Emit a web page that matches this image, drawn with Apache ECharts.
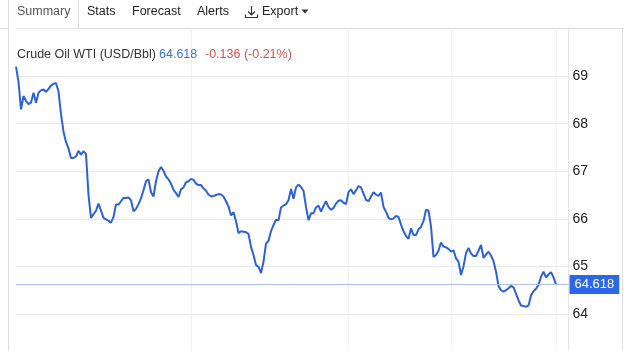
<!DOCTYPE html>
<html>
<head>
<meta charset="utf-8">
<title>Crude Oil WTI</title>
<script src="https://cdn.jsdelivr.net/npm/echarts@6/dist/echarts.min.js"></script>
<style>
    body { margin: 0; background: #fff; }
    #wrap { position: relative; width: 624px; height: 351px; overflow: hidden; font-family: Arial, "Liberation Sans", sans-serif; }
    #CrudeOil { position: absolute; left: 0; top: 0; width: 624px; height: 351px; }
    .tab { position: absolute; top: 3px; font-size: 12.5px; line-height: 16px; color: #222; white-space: nowrap; }
    .ttl { position: absolute; top: 46px; font-size: 12.5px; line-height: 16px; white-space: nowrap; }
    .ln { position: absolute; background: #dedede; }
</style>
</head>
<body>
<div id="wrap">
    <div id="CrudeOil"></div>

    <!-- 页签 -->
    <div class="ln" style="left:0;top:28px;width:8px;height:1px"></div>
    <div class="ln" style="left:78px;top:28px;width:546px;height:1px"></div>
    <div class="ln" style="left:8px;top:0;width:1px;height:351px"></div>
    <div class="ln" style="left:78px;top:0;width:1px;height:28px"></div>
    <div class="ln" style="left:622px;top:28px;width:1px;height:323px"></div>
    <div class="tab" style="left:17px;color:#555">Summary</div>
    <div class="tab" style="left:87px">Stats</div>
    <div class="tab" style="left:132px">Forecast</div>
    <div class="tab" style="left:197px">Alerts</div>
    <svg style="position:absolute;left:244px;top:5px" width="15" height="14" viewBox="0 0 15 14">
        <path d="M7.5 1 V10 M4 6.5 L7.5 10 L11 6.5 M1.5 9.5 V12.5 H13.5 V9.5" fill="none" stroke="#333" stroke-width="1.2"/>
    </svg>
    <div class="tab" style="left:262px">Export</div>
    <svg style="position:absolute;left:301px;top:9px" width="8" height="5" viewBox="0 0 8 5">
        <polygon points="0.5,0.5 7.5,0.5 4,4.5" fill="#333"/>
    </svg>

    <!-- 标题 -->
    <div class="ttl" style="left:17px;color:#333">Crude Oil WTI (USD/Bbl)</div>
    <div class="ttl" id="lastPrice" style="left:159px;color:#3b72d9"></div>
    <div class="ttl" style="left:205px;color:#d9534f">-0.136 (-0.21%)</div>
</div>

<script>
    // 价格走势 (USD/Bbl)
    var prices = [
        69.20, 68.88, 68.30, 68.58, 68.48, 68.41, 68.44, 68.65, 68.44, 68.65,
        68.70, 68.72, 68.67, 68.73, 68.80, 68.84, 68.85, 68.68, 68.20, 67.83,
        67.61, 67.48, 67.28, 67.28, 67.31, 67.43, 67.35, 67.42, 67.36, 66.50,
        66.02, 66.10, 66.17, 66.32, 66.17, 66.02, 65.99, 65.96, 65.92, 66.04,
        66.30, 66.30, 66.37, 66.44, 66.44, 66.45, 66.39, 66.16, 66.21, 66.31,
        66.43, 66.60, 66.79, 66.83, 66.56, 66.47, 66.79, 67.00, 67.09, 67.01,
        66.89, 66.83, 66.74, 66.61, 66.54, 66.46, 66.62, 66.66, 66.77, 66.79,
        66.84, 66.82, 66.74, 66.71, 66.71, 66.64, 66.59, 66.51, 66.47, 66.48,
        66.50, 66.52, 66.51, 66.47, 66.37, 66.26, 66.07, 66.14, 65.95, 65.70,
        65.74, 65.73, 65.72, 65.68, 65.41, 65.24, 65.03, 64.99, 64.86, 65.10,
        65.48, 65.54, 65.74, 65.87, 65.98, 65.97, 66.24, 66.28, 66.31, 66.39,
        66.63, 66.42, 66.66, 66.72, 66.67, 66.59, 66.25, 65.97, 66.12, 66.12,
        66.24, 66.28, 66.15, 66.27, 66.37, 66.25, 66.19, 66.23, 66.32, 66.38,
        66.39, 66.34, 66.31, 66.56, 66.62, 66.52, 66.60, 66.69, 66.66, 66.53,
        66.40, 66.37, 66.47, 66.56, 66.51, 66.48, 66.55, 66.25, 66.15, 66.02,
        65.99, 66.01, 66.06, 66.04, 65.88, 65.74, 65.64, 65.58, 65.80, 65.66,
        65.66, 65.78, 65.83, 65.95, 66.19, 66.17, 65.84, 65.20, 65.24, 65.33,
        65.50, 65.42, 65.40, 65.37, 65.31, 65.34, 65.17, 65.10, 64.82, 65.00,
        65.28, 65.39, 65.27, 65.22, 65.22, 65.33, 65.45, 65.18, 65.25, 65.31,
        65.23, 65.11, 64.89, 64.59, 64.50, 64.47, 64.50, 64.54, 64.59, 64.56,
        64.43, 64.29, 64.18, 64.17, 64.15, 64.18, 64.39, 64.48, 64.53, 64.61,
        64.78, 64.89, 64.77, 64.83, 64.88, 64.77, 64.618
    ];
    var lastPrice = 64.618;
    // 竖向网格线所在的位置 (日期分隔)
    var dayLines = [70, 133, 174, 216];
    // 右侧留白的空位数
    var padSlots = 5;
    var yTicks = [63, 64, 65, 66, 67, 68, 69, 70];

    var slots = [];
    var seriesData = [];
    for (var i = 0; i < prices.length + padSlots; i++) {
        slots.push(String(i));
        seriesData.push(i < prices.length ? prices[i] : null);
    }
    document.getElementById('lastPrice').textContent = lastPrice.toFixed(3);

    var CrudeOilChart = echarts.init(document.getElementById('CrudeOil'));
    var option = {
        animation: false,
        grid: {
            left: 16,
            right: 55.5,
            top: 28.5,
            bottom: -10.6,
            outerBoundsMode: 'none'
        },
        xAxis: {
            type: 'category',
            data: slots,
            boundaryGap: false,
            axisLine: { show: false },
            axisTick: { show: false },
            axisLabel: { show: false },
            splitLine: {
                show: true,
                interval: function (idx) { return dayLines.indexOf(idx) > -1; },
                lineStyle: { color: '#efefef', width: 1 }
            }
        },
        yAxis: {
            type: 'value',
            position: 'right',
            min: yTicks[0],
            max: yTicks[yTicks.length - 1],
            interval: 1,
            axisLine: { show: true, lineStyle: { color: '#e6e6e6' } },
            axisTick: { show: false },
            axisLabel: {
                margin: 4,
                fontSize: 14,
                color: '#222',
                fontFamily: 'Arial, Liberation Sans, sans-serif',
                showMaxLabel: false
            },
            splitLine: { lineStyle: { color: '#e8e8e8', width: 1 } }
        },
        series: [
            {
                name: 'Crude Oil WTI',
                type: 'line',
                data: seriesData,
                symbol: 'none',
                lineStyle: { color: '#2c62d8', width: 2 },
                markLine: {
                    silent: true,
                    precision: 3,
                    symbol: ['none', 'none'],
                    lineStyle: { color: '#a9bfe8', width: 1, type: 'solid' },
                    label: {
                        position: 'end',
                        distance: 1,
                        backgroundColor: '#2c67e8',
                        color: '#fff',
                        fontSize: 13,
                        fontFamily: 'Arial, Liberation Sans, sans-serif',
                        padding: [3, 5],
                        formatter: function () { return lastPrice.toFixed(3); }
                    },
                    data: [{ yAxis: lastPrice }]
                }
            }
        ]
    };
    CrudeOilChart.setOption(option);
</script>
</body>
</html>
